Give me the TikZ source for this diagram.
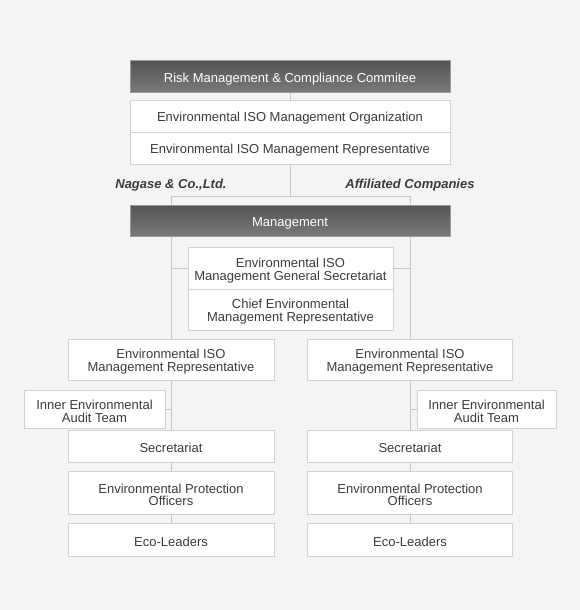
\documentclass[tikz,border=0pt]{standalone}
\usepackage{fontspec}
\setmainfont{Liberation Sans}
\usetikzlibrary{shadings}
\definecolor{bggray}{HTML}{F4F4F4}
\definecolor{boxline}{HTML}{D2D2D2}
\definecolor{linegray}{HTML}{C8C8C8}
\definecolor{txtgray}{HTML}{3C3C3C}
\definecolor{darktop}{HTML}{545454}
\definecolor{darkbot}{HTML}{7A7A7A}
\definecolor{darkline}{HTML}{9A9A9A}
\newcommand{\boxfont}{\fontsize{13}{13}\selectfont\rule{0pt}{14pt}}
\newcommand{\twofont}{\fontsize{13}{12.6}\selectfont\rule{0pt}{26.5pt}}
\tikzstyle{box} = [draw=boxline, fill=white, text=txtgray, align=center, inner sep=0pt, line width=1pt, font=\boxfont]
\tikzstyle{twobox} = [box, font=\twofont]
\tikzstyle{darkbox} = [draw=darkline, top color=darktop, bottom color=darkbot, text=white, align=center, inner sep=0pt, line width=1pt, minimum width=320pt, minimum height=31pt, font=\boxfont]
\tikzstyle{link} = [draw=linegray, line width=1pt]
\tikzstyle{group} = [text=txtgray, font=\fontsize{13}{13}\selectfont\bfseries\itshape]

\begin{document}
\begin{tikzpicture}[x=1pt,y=-1pt]

        \fill[bggray] (0,0) rectangle (580,610);
        \useasboundingbox (0,0) rectangle (580,610);

        %committee and ISO organization
        \node at (290,76.5) [darkbox] (risk) {Risk Management \& Compliance Commitee};
        \node at (290,116) [box, minimum width=320pt, minimum height=32pt] (org) {Environmental ISO Management Organization};
        \node at (290,148) [box, minimum width=320pt, minimum height=32pt] (orgrep) {Environmental ISO Management Representative};

        %split into the two groups
        \coordinate (split) at (290,196);
        \coordinate (nl) at (171,196);
        \coordinate (nr) at (410,196);
        \node at (171,185.5) [group] (nagase) {Nagase \& Co.,Ltd.};
        \node at (410,185.5) [group] (affil) {Affiliated Companies};

        \node at (290,220.5) [darkbox] (mgmt) {Management};

        %general secretariat
        \node at (290.5,268.3) [twobox, minimum width=205pt, minimum height=41.5pt] (gensec) {Environmental ISO\\Management General Secretariat};
        \node at (290.5,309.5) [twobox, minimum width=205pt, minimum height=41pt] (chief) {Chief Environmental\\Management Representative};

        %left column
        \node at (171,359.5) [twobox, minimum width=206pt, minimum height=41pt] (repL) {Environmental ISO\\Management Representative};
        \node at (94.5,409) [twobox, minimum width=141pt, minimum height=38pt] (auditL) {Inner Environmental\\Audit Team};
        \node at (171,446) [box, minimum width=206pt, minimum height=32pt] (secL) {Secretariat};
        \node at (171,492.5) [twobox, minimum width=206pt, minimum height=43pt] (epoL) {Environmental Protection\\Officers};
        \node at (171,539.5) [box, minimum width=206pt, minimum height=33pt] (ecoL) {Eco-Leaders};

        %right column
        \node at (410,359.5) [twobox, minimum width=205pt, minimum height=41pt] (repR) {Environmental ISO\\Management Representative};
        \node at (486.5,409) [twobox, minimum width=139pt, minimum height=38pt] (auditR) {Inner Environmental\\Audit Team};
        \node at (410,446) [box, minimum width=205pt, minimum height=32pt] (secR) {Secretariat};
        \node at (410,492.5) [twobox, minimum width=205pt, minimum height=43pt] (epoR) {Environmental Protection\\Officers};
        \node at (410,539.5) [box, minimum width=205pt, minimum height=33pt] (ecoR) {Eco-Leaders};

        %lines
        \draw [link] (risk) -- (org);
        \draw [link] (orgrep) -- (split);
        \draw [link] (nl) -- (nr);
        \draw [link] (nl) -- (nl |- mgmt.north);
        \draw [link] (nr) -- (nr |- mgmt.north);
        \draw [link] (mgmt.south -| nl) -- (repL.north);
        \draw [link] (mgmt.south -| nr) -- (repR.north);
        \draw [link] (gensec.west) -- (gensec.west -| nl);
        \draw [link] (gensec.east) -- (gensec.east -| nr);
        \draw [link] (repL) -- (secL);
        \draw [link] (repR) -- (secR);
        \draw [link] (auditL.east) -- (auditL.east -| repL.south);
        \draw [link] (auditR.west) -- (auditR.west -| repR.south);
        \draw [link] (secL) -- (epoL);
        \draw [link] (secR) -- (epoR);
        \draw [link] (epoL) -- (ecoL);
        \draw [link] (epoR) -- (ecoR);

\end{tikzpicture}
\end{document}
